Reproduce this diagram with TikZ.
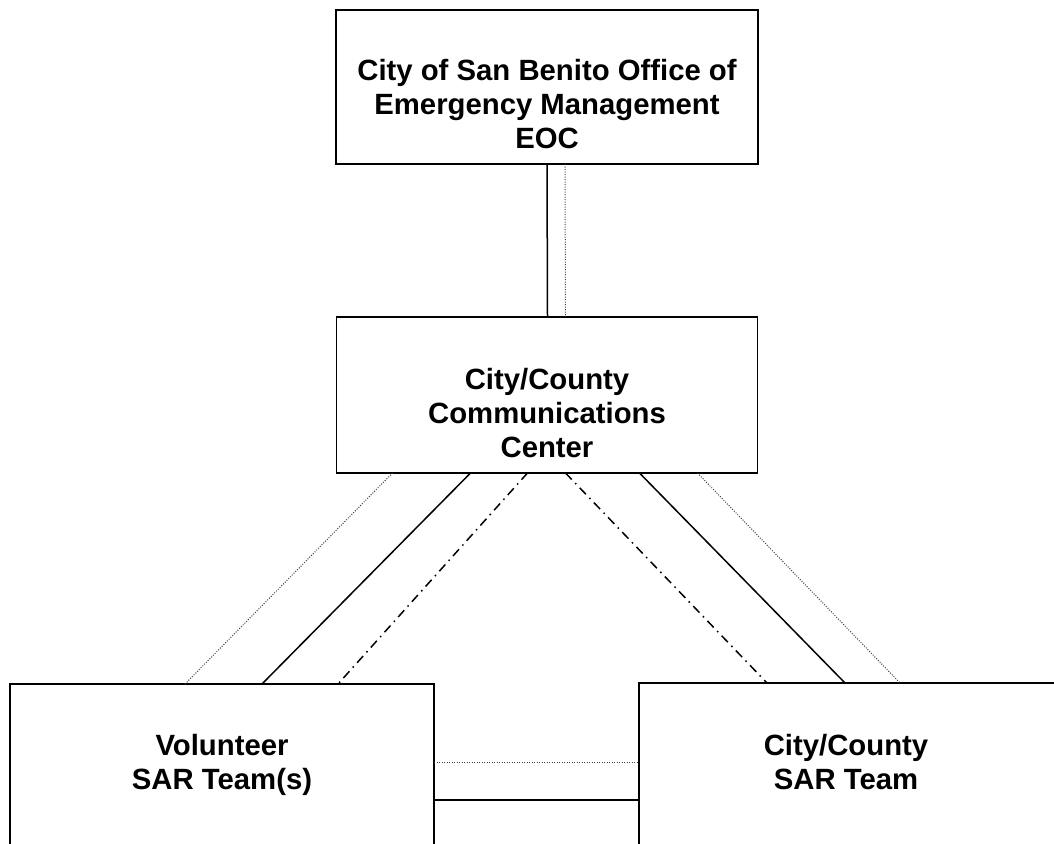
\documentclass[tikz,border=0pt]{standalone}
\usepackage{fontspec}
\setmainfont{Liberation Sans}
\usetikzlibrary{positioning}

\begin{document}
\begin{tikzpicture}[x=1pt,y=-1pt]
            \tikzset{every node/.style={inner sep=0pt, outer sep=0pt},
                    unit/.style={draw=black, line width=1.6pt, rectangle},
                    caption/.style={align=center, font=\fontsize{29.3}{34}\selectfont\bfseries},
                    solidlink/.style={draw=black, line width=1.5pt},
                    dotlink/.style={draw=black!75, line width=1pt, dash pattern=on 1pt off 1.5pt},
                    dashdotlink/.style={draw=black, line width=1.5pt, dash pattern=on 9pt off 5pt on 1.5pt off 5pt}}
            \useasboundingbox (0,0) rectangle (1054,843);
            \clip (0,0) rectangle (1054,843);
            % boxes
            \node[unit, minimum width=422pt, minimum height=154pt] (eoc) at (547,87) {};
            \node[unit, minimum width=421pt, minimum height=156pt] (comm) at (547,395) {};
            \node[unit, minimum width=424pt, minimum height=162pt] (vol) at (222,765) {};
            \node[unit, minimum width=470pt, minimum height=163pt] (sar) at (874,764.5) {};
            % texts
            \node[caption] (eoctxt) at (547,104) {City of San Benito Office of\\Emergency Management\\EOC};
            \node[caption] (commtxt) at (547,413) {City/County\\Communications\\Center};
            \node[caption] (voltxt) at (222,765) {Volunteer\\SAR Team(s)};
            \node[caption] (sartxt) at (846,762) {City/County\\SAR Team};
            % links
            \path[solidlink] ([xshift=211pt]eoc.south west) -- ([xshift=211pt]comm.north west);
            \path[dotlink] ([xshift=229pt]eoc.south west) -- ([xshift=229pt]comm.north west);
            \path[dotlink] ([xshift=56pt]comm.south west) -- ([xshift=175pt]vol.north west);
            \path[solidlink] ([xshift=134pt]comm.south west) -- ([xshift=252pt]vol.north west);
            \path[dashdotlink] ([xshift=191pt]comm.south west) -- ([xshift=328pt]vol.north west);
            \path[dashdotlink] ([xshift=229pt]comm.south west) -- ([xshift=128pt]sar.north west);
            \path[solidlink] ([xshift=303pt]comm.south west) -- ([xshift=206pt]sar.north west);
            \path[dotlink] ([xshift=361pt]comm.south west) -- ([xshift=261pt]sar.north west);
            \path[dotlink] ([yshift=-78pt]vol.north east) -- ([yshift=-79pt]sar.north west);
            \path[solidlink] ([yshift=-116pt]vol.north east) -- ([yshift=-117pt]sar.north west);
        \end{tikzpicture}
\end{document}
